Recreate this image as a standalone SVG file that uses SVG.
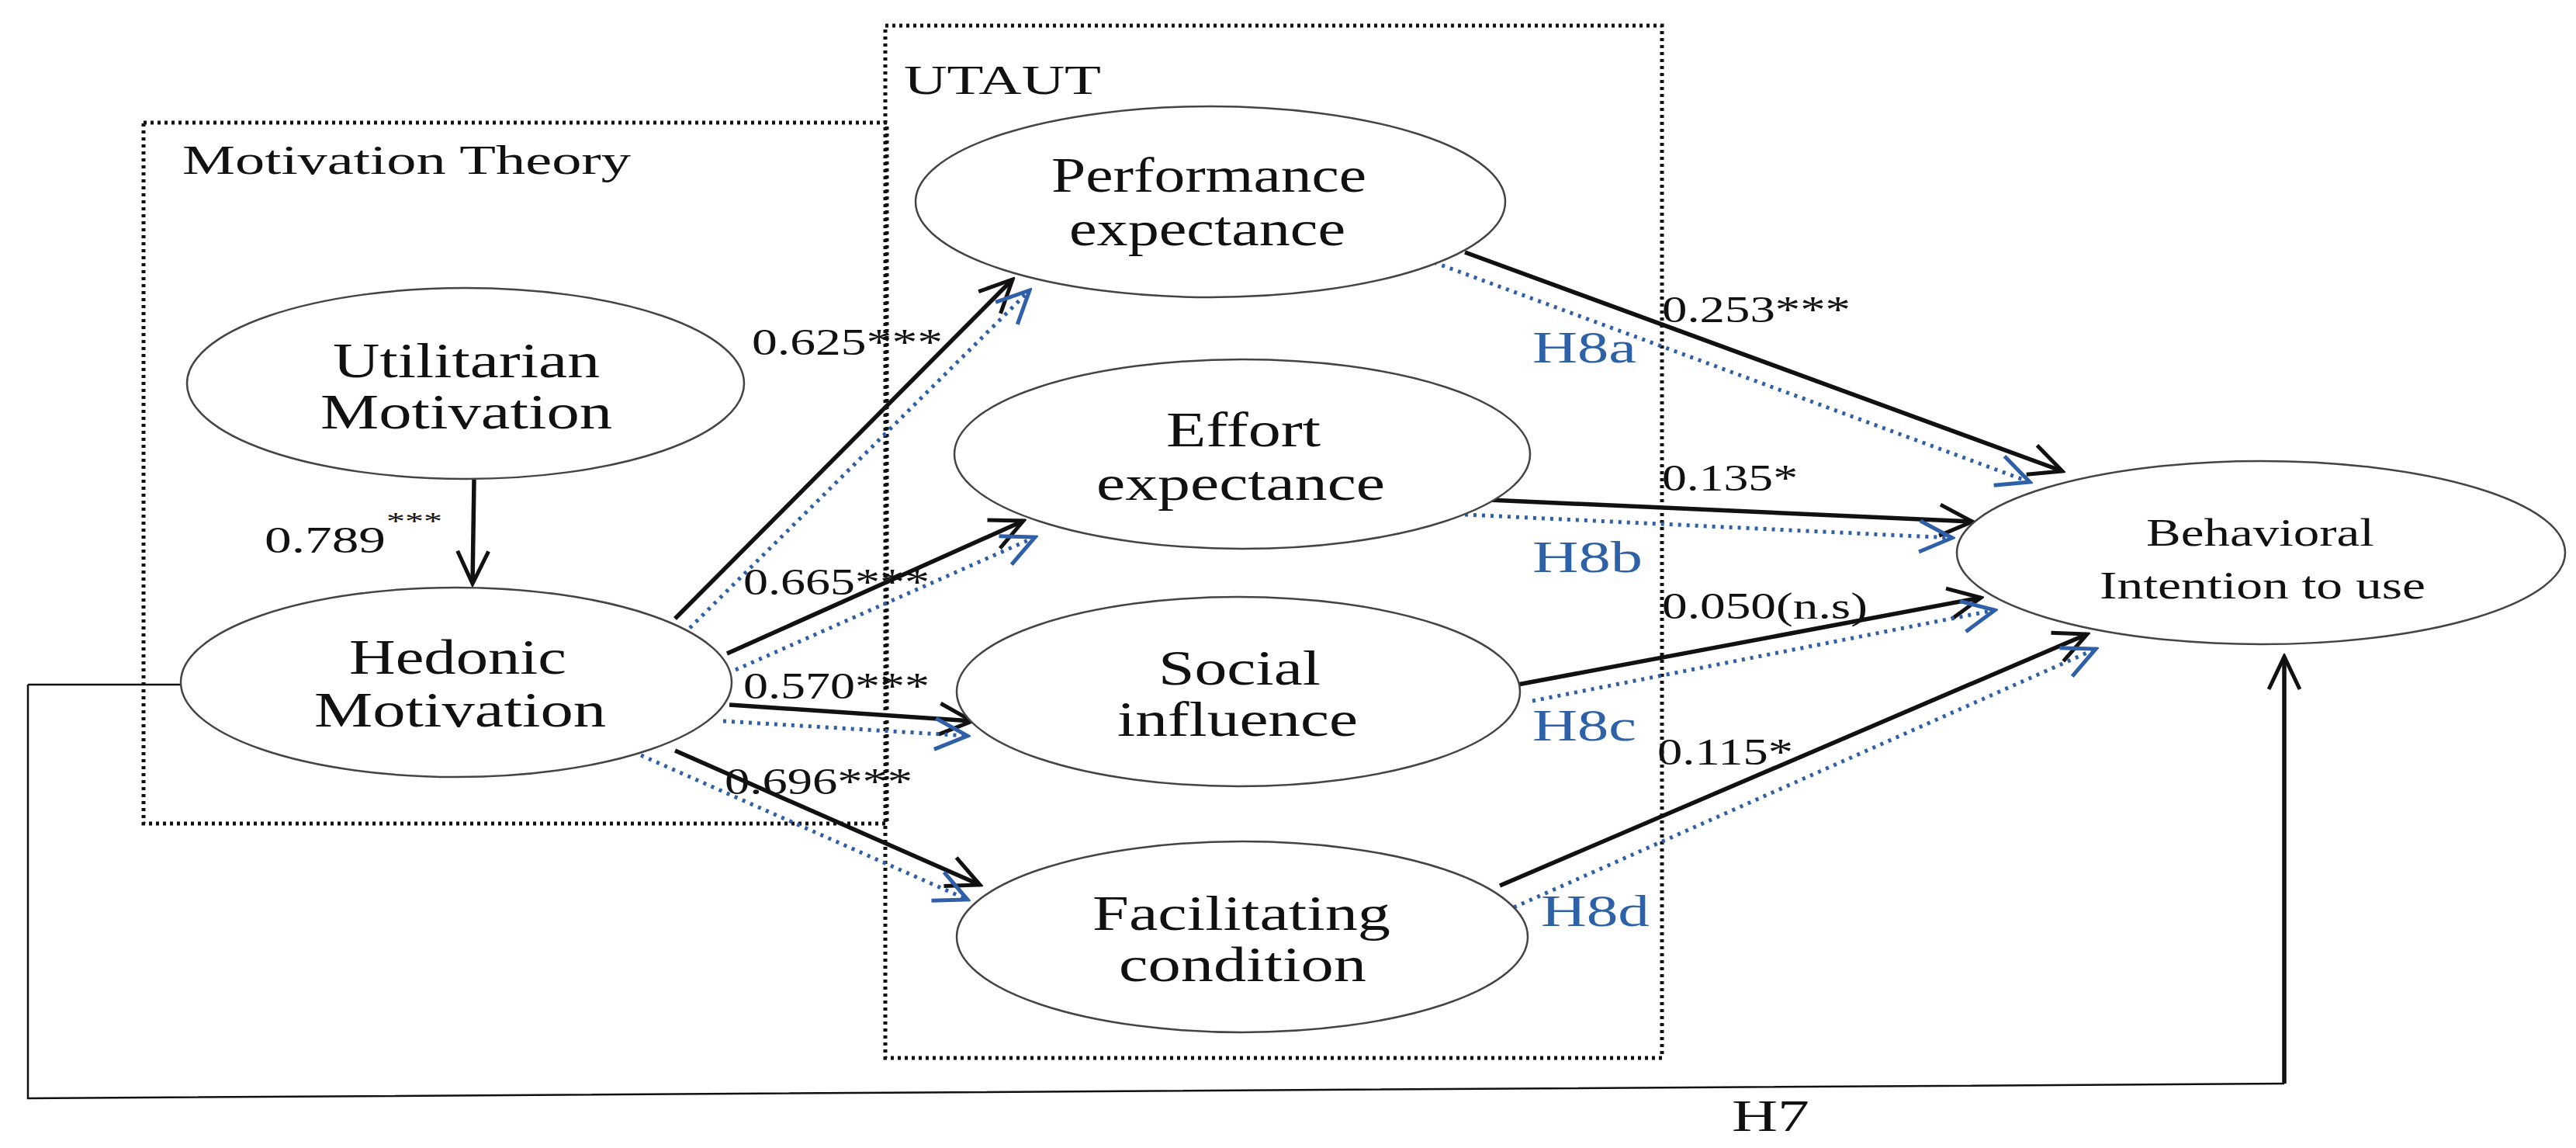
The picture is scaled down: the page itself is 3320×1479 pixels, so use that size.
<svg xmlns="http://www.w3.org/2000/svg" width="3320" height="1479" viewBox="0 0 3320 1479">
<style>
text{font-family:"Liberation Serif","Times New Roman",serif;fill:#111}
.n{font-size:64px}
.bi{font-size:50px}
.e{font-size:48px}
.h{font-size:58px;fill:#2E62A8}
.ell{fill:#fff;stroke:#444;stroke-width:2.5}
.box{fill:none;stroke:#111;stroke-width:5;stroke-dasharray:4 5}
.a{fill:none;stroke:#111;stroke-width:5.5;marker-end:url(#ak)}
.b{fill:none;stroke:#2E5FA8;stroke-width:5;stroke-dasharray:4 7;marker-end:url(#ab)}
</style>
<defs>
<marker id="ak" viewBox="0 0 50 50" refX="46" refY="25" markerWidth="50" markerHeight="50" markerUnits="userSpaceOnUse" orient="auto"><path d="M4,5 L46,25 L4,45" fill="none" stroke="#111" stroke-width="5"/></marker>
<marker id="ab" viewBox="0 0 50 50" refX="46" refY="25" markerWidth="50" markerHeight="50" markerUnits="userSpaceOnUse" orient="auto"><path d="M4,5 L46,25 L4,45" fill="none" stroke="#2E5FA8" stroke-width="5"/></marker>
</defs>
<rect width="3320" height="1479" fill="#fff"/>
<g id="boxes">
<rect class="box" x="185" y="158" width="958" height="903"/>
<text x="235" y="224" font-size="52" textLength="578" lengthAdjust="spacingAndGlyphs">Motivation Theory</text>
<rect class="box" x="1141" y="33" width="1001" height="1330"/>
<text x="1165" y="121" font-size="52" textLength="254" lengthAdjust="spacingAndGlyphs">UTAUT</text>
</g>
<g id="connectors">
<path d="M36,882 L233,882 M36,882 L36,1415 L2944,1396" fill="none" stroke="#111" stroke-width="2.5"/>
<path class="a" d="M2944,1396 L2944,846"/>
<path class="a" d="M611,618 L609,752"/>
<path class="a" d="M870,797 L1305,360"/>
<path class="b" d="M889,809 L1327,374"/>
<path class="a" d="M937,842 L1319,671"/>
<path class="b" d="M948,863 L1334,692"/>
<path class="a" d="M940,908 L1253,929"/>
<path class="b" d="M932,929 L1247,948"/>
<path class="a" d="M870,967 L1263,1140"/>
<path class="b" d="M826,973 L1247,1159"/>
<path class="a" d="M1888,325 L2658,607"/>
<path class="b" d="M1848,338 L2616,621"/>
<path class="a" d="M1919,644 L2542,672"/>
<path class="b" d="M1888,663 L2516,693"/>
<path class="a" d="M1956,882 L2553,770"/>
<path class="b" d="M1975,903 L2571,786"/>
<path class="a" d="M1933,1141 L2690,817"/>
<path class="b" d="M1951,1169 L2701,836"/>
</g>
<g id="utilitarian">
<ellipse class="ell" cx="600" cy="494" rx="359" ry="123"/>
<text class="n" x="429" y="486" textLength="344" lengthAdjust="spacingAndGlyphs">Utilitarian</text>
<text class="n" x="413" y="552" textLength="376" lengthAdjust="spacingAndGlyphs">Motivation</text>
</g>
<g id="hedonic">
<ellipse class="ell" cx="588" cy="879" rx="355" ry="122"/>
<text class="n" x="450" y="868" textLength="280" lengthAdjust="spacingAndGlyphs">Hedonic</text>
<text class="n" x="405" y="936" textLength="376" lengthAdjust="spacingAndGlyphs">Motivation</text>
</g>
<g id="performance">
<ellipse class="ell" cx="1560" cy="260" rx="380" ry="123"/>
<text class="n" x="1355" y="247" textLength="406" lengthAdjust="spacingAndGlyphs">Performance</text>
<text class="n" x="1378" y="316" textLength="356" lengthAdjust="spacingAndGlyphs">expectance</text>
</g>
<g id="effort">
<ellipse class="ell" cx="1601" cy="585" rx="371" ry="122"/>
<text class="n" x="1503" y="575" textLength="199" lengthAdjust="spacingAndGlyphs">Effort</text>
<text class="n" x="1413" y="644" textLength="372" lengthAdjust="spacingAndGlyphs">expectance</text>
</g>
<g id="social">
<ellipse class="ell" cx="1596" cy="891" rx="363" ry="122"/>
<text class="n" x="1493" y="882" textLength="209" lengthAdjust="spacingAndGlyphs">Social</text>
<text class="n" x="1440" y="948" textLength="310" lengthAdjust="spacingAndGlyphs">influence</text>
</g>
<g id="facilitating">
<ellipse class="ell" cx="1601" cy="1207" rx="368" ry="123"/>
<text class="n" x="1408" y="1198" textLength="384" lengthAdjust="spacingAndGlyphs">Facilitating</text>
<text class="n" x="1442" y="1264" textLength="319" lengthAdjust="spacingAndGlyphs">condition</text>
</g>
<g id="behavioral">
<ellipse class="ell" cx="2914" cy="712" rx="392" ry="118"/>
<text class="bi" x="2766" y="703" textLength="294" lengthAdjust="spacingAndGlyphs">Behavioral</text>
<text class="bi" x="2706" y="771" textLength="420" lengthAdjust="spacingAndGlyphs">Intention to use</text>
</g>
<g id="labels">
<text class="e" x="341" y="712" textLength="156" lengthAdjust="spacingAndGlyphs">0.789</text>
<text x="498" y="682" font-size="32" textLength="72" lengthAdjust="spacingAndGlyphs">***</text>
<text class="e" x="969" y="457" textLength="246" lengthAdjust="spacingAndGlyphs">0.625***</text>
<text class="e" x="958" y="766" textLength="240" lengthAdjust="spacingAndGlyphs">0.665***</text>
<text class="e" x="958" y="900" textLength="240" lengthAdjust="spacingAndGlyphs">0.570***</text>
<text class="e" x="934" y="1023" textLength="242" lengthAdjust="spacingAndGlyphs">0.696***</text>
<text class="e" x="2142" y="415" textLength="243" lengthAdjust="spacingAndGlyphs">0.253***</text>
<text class="e" x="2142" y="632" textLength="175" lengthAdjust="spacingAndGlyphs">0.135*</text>
<text class="e" x="2142" y="797" textLength="265" lengthAdjust="spacingAndGlyphs">0.050(n.s)</text>
<text class="e" x="2136" y="985" textLength="175" lengthAdjust="spacingAndGlyphs">0.115*</text>
<text class="h" x="1975" y="467" textLength="134" lengthAdjust="spacingAndGlyphs">H8a</text>
<text class="h" x="1975" y="737" textLength="142" lengthAdjust="spacingAndGlyphs">H8b</text>
<text class="h" x="1975" y="954" textLength="134" lengthAdjust="spacingAndGlyphs">H8c</text>
<text class="h" x="1986" y="1193" textLength="140" lengthAdjust="spacingAndGlyphs">H8d</text>
<text x="2232" y="1457" font-size="58" textLength="100" lengthAdjust="spacingAndGlyphs">H7</text>
</g>
</svg>
